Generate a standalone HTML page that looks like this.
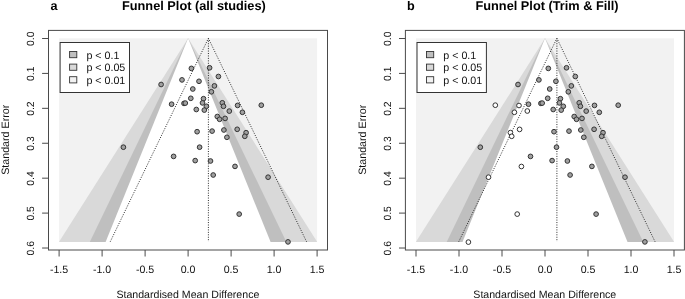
<!DOCTYPE html>
<html><head><meta charset="utf-8"><style>
html,body{margin:0;padding:0;background:#fff;}
svg{display:block;will-change:transform;text-rendering:geometricPrecision;}
</style></head><body>
<svg width="685" height="299" viewBox="0 0 685 299">
<rect width="685" height="299" fill="#fff"/>
<rect x="59.10" y="38.30" width="258.00" height="203.70" fill="#f2f2f2"/>
<polygon points="188.10,38.30 59.10,241.70 59.10,242.00 317.10,242.00 317.10,241.70" fill="#d9d9d9"/>
<polygon points="188.10,38.30 89.80,242.00 286.40,242.00" fill="#bfbfbf"/>
<polygon points="188.10,38.30 105.60,242.00 270.60,242.00" fill="#ffffff"/>
<polyline points="110.25,241.70 208.40,38.30 306.55,241.70" fill="none" stroke="#222" stroke-width="0.95" stroke-dasharray="1.0 1.45"/>
<line x1="208.40" y1="38.30" x2="208.40" y2="241.70" stroke="#222" stroke-width="0.95" stroke-dasharray="1.0 1.45"/>
<circle cx="161.10" cy="84.50" r="2.35" fill="#a0a0a0" stroke="#333" stroke-width="1"/>
<circle cx="191.40" cy="68.40" r="2.35" fill="#a0a0a0" stroke="#333" stroke-width="1"/>
<circle cx="209.60" cy="67.80" r="2.35" fill="#a0a0a0" stroke="#333" stroke-width="1"/>
<circle cx="182.00" cy="79.90" r="2.35" fill="#a0a0a0" stroke="#333" stroke-width="1"/>
<circle cx="199.00" cy="81.30" r="2.35" fill="#a0a0a0" stroke="#333" stroke-width="1"/>
<circle cx="218.40" cy="76.50" r="2.35" fill="#a0a0a0" stroke="#333" stroke-width="1"/>
<circle cx="192.80" cy="89.00" r="2.35" fill="#a0a0a0" stroke="#333" stroke-width="1"/>
<circle cx="214.40" cy="85.90" r="2.35" fill="#a0a0a0" stroke="#333" stroke-width="1"/>
<circle cx="211.40" cy="91.80" r="2.35" fill="#a0a0a0" stroke="#333" stroke-width="1"/>
<circle cx="190.80" cy="98.30" r="2.35" fill="#a0a0a0" stroke="#333" stroke-width="1"/>
<circle cx="203.50" cy="98.70" r="2.35" fill="#a0a0a0" stroke="#333" stroke-width="1"/>
<circle cx="171.60" cy="104.20" r="2.35" fill="#a0a0a0" stroke="#333" stroke-width="1"/>
<circle cx="184.00" cy="103.40" r="2.35" fill="#a0a0a0" stroke="#333" stroke-width="1"/>
<circle cx="185.30" cy="103.10" r="2.35" fill="#a0a0a0" stroke="#333" stroke-width="1"/>
<circle cx="202.50" cy="102.90" r="2.35" fill="#a0a0a0" stroke="#333" stroke-width="1"/>
<circle cx="206.40" cy="106.30" r="2.35" fill="#a0a0a0" stroke="#333" stroke-width="1"/>
<circle cx="222.30" cy="102.80" r="2.35" fill="#a0a0a0" stroke="#333" stroke-width="1"/>
<circle cx="223.50" cy="106.30" r="2.35" fill="#a0a0a0" stroke="#333" stroke-width="1"/>
<circle cx="237.60" cy="105.40" r="2.35" fill="#a0a0a0" stroke="#333" stroke-width="1"/>
<circle cx="261.30" cy="105.20" r="2.35" fill="#a0a0a0" stroke="#333" stroke-width="1"/>
<circle cx="196.30" cy="109.50" r="2.35" fill="#a0a0a0" stroke="#333" stroke-width="1"/>
<circle cx="204.30" cy="110.10" r="2.35" fill="#a0a0a0" stroke="#333" stroke-width="1"/>
<circle cx="229.30" cy="111.10" r="2.35" fill="#a0a0a0" stroke="#333" stroke-width="1"/>
<circle cx="242.40" cy="112.30" r="2.35" fill="#a0a0a0" stroke="#333" stroke-width="1"/>
<circle cx="217.30" cy="116.50" r="2.35" fill="#a0a0a0" stroke="#333" stroke-width="1"/>
<circle cx="219.60" cy="119.30" r="2.35" fill="#a0a0a0" stroke="#333" stroke-width="1"/>
<circle cx="225.10" cy="118.40" r="2.35" fill="#a0a0a0" stroke="#333" stroke-width="1"/>
<circle cx="197.10" cy="131.70" r="2.35" fill="#a0a0a0" stroke="#333" stroke-width="1"/>
<circle cx="212.10" cy="131.10" r="2.35" fill="#a0a0a0" stroke="#333" stroke-width="1"/>
<circle cx="223.90" cy="130.00" r="2.35" fill="#a0a0a0" stroke="#333" stroke-width="1"/>
<circle cx="237.20" cy="129.30" r="2.35" fill="#a0a0a0" stroke="#333" stroke-width="1"/>
<circle cx="246.10" cy="132.70" r="2.35" fill="#a0a0a0" stroke="#333" stroke-width="1"/>
<circle cx="244.80" cy="136.30" r="2.35" fill="#a0a0a0" stroke="#333" stroke-width="1"/>
<circle cx="226.90" cy="137.30" r="2.35" fill="#a0a0a0" stroke="#333" stroke-width="1"/>
<circle cx="199.60" cy="147.20" r="2.35" fill="#a0a0a0" stroke="#333" stroke-width="1"/>
<circle cx="173.60" cy="156.40" r="2.35" fill="#a0a0a0" stroke="#333" stroke-width="1"/>
<circle cx="123.40" cy="147.20" r="2.35" fill="#a0a0a0" stroke="#333" stroke-width="1"/>
<circle cx="195.20" cy="160.60" r="2.35" fill="#a0a0a0" stroke="#333" stroke-width="1"/>
<circle cx="210.50" cy="161.00" r="2.35" fill="#a0a0a0" stroke="#333" stroke-width="1"/>
<circle cx="213.20" cy="175.00" r="2.35" fill="#a0a0a0" stroke="#333" stroke-width="1"/>
<circle cx="235.00" cy="166.40" r="2.35" fill="#a0a0a0" stroke="#333" stroke-width="1"/>
<circle cx="268.10" cy="177.20" r="2.35" fill="#a0a0a0" stroke="#333" stroke-width="1"/>
<circle cx="239.20" cy="214.10" r="2.35" fill="#a0a0a0" stroke="#333" stroke-width="1"/>
<circle cx="288.00" cy="241.90" r="2.35" fill="#a0a0a0" stroke="#333" stroke-width="1"/>
<rect x="60.10" y="42.5" width="69.4" height="50.0" fill="#fff" stroke="#333" stroke-width="1"/>
<rect x="69.60" y="51.50" width="7.2" height="6.2" fill="#bfbfbf" stroke="#333" stroke-width="0.9"/>
<text x="86.40" y="58.50" font-size="10.7" style="font-family:'Liberation Sans',sans-serif" fill="#111">p &lt; 0.1</text>
<rect x="69.60" y="64.10" width="7.2" height="6.2" fill="#d9d9d9" stroke="#333" stroke-width="0.9"/>
<text x="86.40" y="71.10" font-size="10.7" style="font-family:'Liberation Sans',sans-serif" fill="#111">p &lt; 0.05</text>
<rect x="69.60" y="76.70" width="7.2" height="6.2" fill="#f2f2f2" stroke="#333" stroke-width="0.9"/>
<text x="86.40" y="83.70" font-size="10.7" style="font-family:'Liberation Sans',sans-serif" fill="#111">p &lt; 0.01</text>
<rect x="48.50" y="30.4" width="279" height="219.6" fill="none" stroke="#4a4a4a" stroke-width="1"/>
<line x1="59.10" y1="250" x2="59.10" y2="256.5" stroke="#4a4a4a" stroke-width="1"/>
<text x="59.10" y="272.6" font-size="10.6" text-anchor="middle" style="font-family:'Liberation Sans',sans-serif" fill="#111">-1.5</text>
<line x1="102.10" y1="250" x2="102.10" y2="256.5" stroke="#4a4a4a" stroke-width="1"/>
<text x="102.10" y="272.6" font-size="10.6" text-anchor="middle" style="font-family:'Liberation Sans',sans-serif" fill="#111">-1.0</text>
<line x1="145.10" y1="250" x2="145.10" y2="256.5" stroke="#4a4a4a" stroke-width="1"/>
<text x="145.10" y="272.6" font-size="10.6" text-anchor="middle" style="font-family:'Liberation Sans',sans-serif" fill="#111">-0.5</text>
<line x1="188.10" y1="250" x2="188.10" y2="256.5" stroke="#4a4a4a" stroke-width="1"/>
<text x="188.10" y="272.6" font-size="10.6" text-anchor="middle" style="font-family:'Liberation Sans',sans-serif" fill="#111">0.0</text>
<line x1="231.10" y1="250" x2="231.10" y2="256.5" stroke="#4a4a4a" stroke-width="1"/>
<text x="231.10" y="272.6" font-size="10.6" text-anchor="middle" style="font-family:'Liberation Sans',sans-serif" fill="#111">0.5</text>
<line x1="274.10" y1="250" x2="274.10" y2="256.5" stroke="#4a4a4a" stroke-width="1"/>
<text x="274.10" y="272.6" font-size="10.6" text-anchor="middle" style="font-family:'Liberation Sans',sans-serif" fill="#111">1.0</text>
<line x1="317.10" y1="250" x2="317.10" y2="256.5" stroke="#4a4a4a" stroke-width="1"/>
<text x="317.10" y="272.6" font-size="10.6" text-anchor="middle" style="font-family:'Liberation Sans',sans-serif" fill="#111">1.5</text>
<line x1="42.10" y1="38.50" x2="48.50" y2="38.50" stroke="#4a4a4a" stroke-width="1"/>
<text transform="translate(34.20,38.80) rotate(-90)" x="0" y="0" font-size="10.4" text-anchor="middle" style="font-family:'Liberation Sans',sans-serif" fill="#111">0.0</text>
<line x1="42.10" y1="73.42" x2="48.50" y2="73.42" stroke="#4a4a4a" stroke-width="1"/>
<text transform="translate(34.20,73.72) rotate(-90)" x="0" y="0" font-size="10.4" text-anchor="middle" style="font-family:'Liberation Sans',sans-serif" fill="#111">0.1</text>
<line x1="42.10" y1="108.34" x2="48.50" y2="108.34" stroke="#4a4a4a" stroke-width="1"/>
<text transform="translate(34.20,108.64) rotate(-90)" x="0" y="0" font-size="10.4" text-anchor="middle" style="font-family:'Liberation Sans',sans-serif" fill="#111">0.2</text>
<line x1="42.10" y1="143.26" x2="48.50" y2="143.26" stroke="#4a4a4a" stroke-width="1"/>
<text transform="translate(34.20,143.56) rotate(-90)" x="0" y="0" font-size="10.4" text-anchor="middle" style="font-family:'Liberation Sans',sans-serif" fill="#111">0.3</text>
<line x1="42.10" y1="178.18" x2="48.50" y2="178.18" stroke="#4a4a4a" stroke-width="1"/>
<text transform="translate(34.20,178.48) rotate(-90)" x="0" y="0" font-size="10.4" text-anchor="middle" style="font-family:'Liberation Sans',sans-serif" fill="#111">0.4</text>
<line x1="42.10" y1="213.10" x2="48.50" y2="213.10" stroke="#4a4a4a" stroke-width="1"/>
<text transform="translate(34.20,213.40) rotate(-90)" x="0" y="0" font-size="10.4" text-anchor="middle" style="font-family:'Liberation Sans',sans-serif" fill="#111">0.5</text>
<line x1="42.10" y1="248.02" x2="48.50" y2="248.02" stroke="#4a4a4a" stroke-width="1"/>
<text transform="translate(34.20,248.32) rotate(-90)" x="0" y="0" font-size="10.4" text-anchor="middle" style="font-family:'Liberation Sans',sans-serif" fill="#111">0.6</text>
<text x="187.90" y="297.7" font-size="10.6" text-anchor="middle" style="font-family:'Liberation Sans',sans-serif" fill="#111">Standardised Mean Difference</text>
<text transform="translate(9.00,139.8) rotate(-90)" font-size="10.7" text-anchor="middle" style="font-family:'Liberation Sans',sans-serif" fill="#111">Standard Error</text>
<text x="50.60" y="9.6" font-size="12.6" font-weight="bold" style="font-family:'Liberation Sans',sans-serif" fill="#000">a</text>
<text x="122.00" y="9.6" font-size="12.75" font-weight="bold" style="font-family:'Liberation Sans',sans-serif" fill="#000">Funnel Plot (all studies)</text>
<rect x="416.00" y="38.30" width="258.00" height="203.70" fill="#f2f2f2"/>
<polygon points="545.00,38.30 416.00,241.70 416.00,242.00 674.00,242.00 674.00,241.70" fill="#d9d9d9"/>
<polygon points="545.00,38.30 446.70,242.00 643.30,242.00" fill="#bfbfbf"/>
<polygon points="545.00,38.30 462.50,242.00 627.50,242.00" fill="#ffffff"/>
<polyline points="458.75,241.70 556.90,38.30 655.05,241.70" fill="none" stroke="#222" stroke-width="0.95" stroke-dasharray="1.0 1.45"/>
<line x1="556.90" y1="38.30" x2="556.90" y2="241.70" stroke="#222" stroke-width="0.95" stroke-dasharray="1.0 1.45"/>
<circle cx="518.00" cy="84.50" r="2.35" fill="#a0a0a0" stroke="#333" stroke-width="1"/>
<circle cx="548.30" cy="68.40" r="2.35" fill="#a0a0a0" stroke="#333" stroke-width="1"/>
<circle cx="566.50" cy="67.80" r="2.35" fill="#a0a0a0" stroke="#333" stroke-width="1"/>
<circle cx="538.90" cy="79.90" r="2.35" fill="#a0a0a0" stroke="#333" stroke-width="1"/>
<circle cx="555.90" cy="81.30" r="2.35" fill="#a0a0a0" stroke="#333" stroke-width="1"/>
<circle cx="575.30" cy="76.50" r="2.35" fill="#a0a0a0" stroke="#333" stroke-width="1"/>
<circle cx="549.70" cy="89.00" r="2.35" fill="#a0a0a0" stroke="#333" stroke-width="1"/>
<circle cx="571.30" cy="85.90" r="2.35" fill="#a0a0a0" stroke="#333" stroke-width="1"/>
<circle cx="568.30" cy="91.80" r="2.35" fill="#a0a0a0" stroke="#333" stroke-width="1"/>
<circle cx="547.70" cy="98.30" r="2.35" fill="#a0a0a0" stroke="#333" stroke-width="1"/>
<circle cx="560.40" cy="98.70" r="2.35" fill="#a0a0a0" stroke="#333" stroke-width="1"/>
<circle cx="528.50" cy="104.20" r="2.35" fill="#a0a0a0" stroke="#333" stroke-width="1"/>
<circle cx="540.90" cy="103.40" r="2.35" fill="#a0a0a0" stroke="#333" stroke-width="1"/>
<circle cx="542.20" cy="103.10" r="2.35" fill="#a0a0a0" stroke="#333" stroke-width="1"/>
<circle cx="559.40" cy="102.90" r="2.35" fill="#a0a0a0" stroke="#333" stroke-width="1"/>
<circle cx="563.30" cy="106.30" r="2.35" fill="#a0a0a0" stroke="#333" stroke-width="1"/>
<circle cx="579.20" cy="102.80" r="2.35" fill="#a0a0a0" stroke="#333" stroke-width="1"/>
<circle cx="580.40" cy="106.30" r="2.35" fill="#a0a0a0" stroke="#333" stroke-width="1"/>
<circle cx="594.50" cy="105.40" r="2.35" fill="#a0a0a0" stroke="#333" stroke-width="1"/>
<circle cx="618.20" cy="105.20" r="2.35" fill="#a0a0a0" stroke="#333" stroke-width="1"/>
<circle cx="553.20" cy="109.50" r="2.35" fill="#a0a0a0" stroke="#333" stroke-width="1"/>
<circle cx="561.20" cy="110.10" r="2.35" fill="#a0a0a0" stroke="#333" stroke-width="1"/>
<circle cx="586.20" cy="111.10" r="2.35" fill="#a0a0a0" stroke="#333" stroke-width="1"/>
<circle cx="599.30" cy="112.30" r="2.35" fill="#a0a0a0" stroke="#333" stroke-width="1"/>
<circle cx="574.20" cy="116.50" r="2.35" fill="#a0a0a0" stroke="#333" stroke-width="1"/>
<circle cx="576.50" cy="119.30" r="2.35" fill="#a0a0a0" stroke="#333" stroke-width="1"/>
<circle cx="582.00" cy="118.40" r="2.35" fill="#a0a0a0" stroke="#333" stroke-width="1"/>
<circle cx="554.00" cy="131.70" r="2.35" fill="#a0a0a0" stroke="#333" stroke-width="1"/>
<circle cx="569.00" cy="131.10" r="2.35" fill="#a0a0a0" stroke="#333" stroke-width="1"/>
<circle cx="580.80" cy="130.00" r="2.35" fill="#a0a0a0" stroke="#333" stroke-width="1"/>
<circle cx="594.10" cy="129.30" r="2.35" fill="#a0a0a0" stroke="#333" stroke-width="1"/>
<circle cx="603.00" cy="132.70" r="2.35" fill="#a0a0a0" stroke="#333" stroke-width="1"/>
<circle cx="601.70" cy="136.30" r="2.35" fill="#a0a0a0" stroke="#333" stroke-width="1"/>
<circle cx="583.80" cy="137.30" r="2.35" fill="#a0a0a0" stroke="#333" stroke-width="1"/>
<circle cx="556.50" cy="147.20" r="2.35" fill="#a0a0a0" stroke="#333" stroke-width="1"/>
<circle cx="530.50" cy="156.40" r="2.35" fill="#a0a0a0" stroke="#333" stroke-width="1"/>
<circle cx="480.30" cy="147.20" r="2.35" fill="#a0a0a0" stroke="#333" stroke-width="1"/>
<circle cx="552.10" cy="160.60" r="2.35" fill="#a0a0a0" stroke="#333" stroke-width="1"/>
<circle cx="567.40" cy="161.00" r="2.35" fill="#a0a0a0" stroke="#333" stroke-width="1"/>
<circle cx="570.10" cy="175.00" r="2.35" fill="#a0a0a0" stroke="#333" stroke-width="1"/>
<circle cx="591.90" cy="166.40" r="2.35" fill="#a0a0a0" stroke="#333" stroke-width="1"/>
<circle cx="625.00" cy="177.20" r="2.35" fill="#a0a0a0" stroke="#333" stroke-width="1"/>
<circle cx="596.10" cy="214.10" r="2.35" fill="#a0a0a0" stroke="#333" stroke-width="1"/>
<circle cx="644.90" cy="241.90" r="2.35" fill="#a0a0a0" stroke="#333" stroke-width="1"/>
<circle cx="495.30" cy="105.20" r="2.35" fill="#ffffff" stroke="#333" stroke-width="1"/>
<circle cx="519.00" cy="105.50" r="2.35" fill="#ffffff" stroke="#333" stroke-width="1"/>
<circle cx="514.40" cy="112.30" r="2.35" fill="#ffffff" stroke="#333" stroke-width="1"/>
<circle cx="527.30" cy="111.00" r="2.35" fill="#ffffff" stroke="#333" stroke-width="1"/>
<circle cx="519.60" cy="129.40" r="2.35" fill="#ffffff" stroke="#333" stroke-width="1"/>
<circle cx="510.40" cy="132.60" r="2.35" fill="#ffffff" stroke="#333" stroke-width="1"/>
<circle cx="511.70" cy="136.30" r="2.35" fill="#ffffff" stroke="#333" stroke-width="1"/>
<circle cx="521.40" cy="166.50" r="2.35" fill="#ffffff" stroke="#333" stroke-width="1"/>
<circle cx="488.50" cy="177.20" r="2.35" fill="#ffffff" stroke="#333" stroke-width="1"/>
<circle cx="517.20" cy="214.10" r="2.35" fill="#ffffff" stroke="#333" stroke-width="1"/>
<circle cx="468.40" cy="242.10" r="2.35" fill="#ffffff" stroke="#333" stroke-width="1"/>
<rect x="417.00" y="42.5" width="69.4" height="50.0" fill="#fff" stroke="#333" stroke-width="1"/>
<rect x="426.50" y="51.50" width="7.2" height="6.2" fill="#bfbfbf" stroke="#333" stroke-width="0.9"/>
<text x="443.30" y="58.50" font-size="10.7" style="font-family:'Liberation Sans',sans-serif" fill="#111">p &lt; 0.1</text>
<rect x="426.50" y="64.10" width="7.2" height="6.2" fill="#d9d9d9" stroke="#333" stroke-width="0.9"/>
<text x="443.30" y="71.10" font-size="10.7" style="font-family:'Liberation Sans',sans-serif" fill="#111">p &lt; 0.05</text>
<rect x="426.50" y="76.70" width="7.2" height="6.2" fill="#f2f2f2" stroke="#333" stroke-width="0.9"/>
<text x="443.30" y="83.70" font-size="10.7" style="font-family:'Liberation Sans',sans-serif" fill="#111">p &lt; 0.01</text>
<rect x="405.40" y="30.4" width="279" height="219.6" fill="none" stroke="#4a4a4a" stroke-width="1"/>
<line x1="416.00" y1="250" x2="416.00" y2="256.5" stroke="#4a4a4a" stroke-width="1"/>
<text x="416.00" y="272.6" font-size="10.6" text-anchor="middle" style="font-family:'Liberation Sans',sans-serif" fill="#111">-1.5</text>
<line x1="459.00" y1="250" x2="459.00" y2="256.5" stroke="#4a4a4a" stroke-width="1"/>
<text x="459.00" y="272.6" font-size="10.6" text-anchor="middle" style="font-family:'Liberation Sans',sans-serif" fill="#111">-1.0</text>
<line x1="502.00" y1="250" x2="502.00" y2="256.5" stroke="#4a4a4a" stroke-width="1"/>
<text x="502.00" y="272.6" font-size="10.6" text-anchor="middle" style="font-family:'Liberation Sans',sans-serif" fill="#111">-0.5</text>
<line x1="545.00" y1="250" x2="545.00" y2="256.5" stroke="#4a4a4a" stroke-width="1"/>
<text x="545.00" y="272.6" font-size="10.6" text-anchor="middle" style="font-family:'Liberation Sans',sans-serif" fill="#111">0.0</text>
<line x1="588.00" y1="250" x2="588.00" y2="256.5" stroke="#4a4a4a" stroke-width="1"/>
<text x="588.00" y="272.6" font-size="10.6" text-anchor="middle" style="font-family:'Liberation Sans',sans-serif" fill="#111">0.5</text>
<line x1="631.00" y1="250" x2="631.00" y2="256.5" stroke="#4a4a4a" stroke-width="1"/>
<text x="631.00" y="272.6" font-size="10.6" text-anchor="middle" style="font-family:'Liberation Sans',sans-serif" fill="#111">1.0</text>
<line x1="674.00" y1="250" x2="674.00" y2="256.5" stroke="#4a4a4a" stroke-width="1"/>
<text x="674.00" y="272.6" font-size="10.6" text-anchor="middle" style="font-family:'Liberation Sans',sans-serif" fill="#111">1.5</text>
<line x1="399.00" y1="38.50" x2="405.40" y2="38.50" stroke="#4a4a4a" stroke-width="1"/>
<text transform="translate(391.10,38.80) rotate(-90)" x="0" y="0" font-size="10.4" text-anchor="middle" style="font-family:'Liberation Sans',sans-serif" fill="#111">0.0</text>
<line x1="399.00" y1="73.42" x2="405.40" y2="73.42" stroke="#4a4a4a" stroke-width="1"/>
<text transform="translate(391.10,73.72) rotate(-90)" x="0" y="0" font-size="10.4" text-anchor="middle" style="font-family:'Liberation Sans',sans-serif" fill="#111">0.1</text>
<line x1="399.00" y1="108.34" x2="405.40" y2="108.34" stroke="#4a4a4a" stroke-width="1"/>
<text transform="translate(391.10,108.64) rotate(-90)" x="0" y="0" font-size="10.4" text-anchor="middle" style="font-family:'Liberation Sans',sans-serif" fill="#111">0.2</text>
<line x1="399.00" y1="143.26" x2="405.40" y2="143.26" stroke="#4a4a4a" stroke-width="1"/>
<text transform="translate(391.10,143.56) rotate(-90)" x="0" y="0" font-size="10.4" text-anchor="middle" style="font-family:'Liberation Sans',sans-serif" fill="#111">0.3</text>
<line x1="399.00" y1="178.18" x2="405.40" y2="178.18" stroke="#4a4a4a" stroke-width="1"/>
<text transform="translate(391.10,178.48) rotate(-90)" x="0" y="0" font-size="10.4" text-anchor="middle" style="font-family:'Liberation Sans',sans-serif" fill="#111">0.4</text>
<line x1="399.00" y1="213.10" x2="405.40" y2="213.10" stroke="#4a4a4a" stroke-width="1"/>
<text transform="translate(391.10,213.40) rotate(-90)" x="0" y="0" font-size="10.4" text-anchor="middle" style="font-family:'Liberation Sans',sans-serif" fill="#111">0.5</text>
<line x1="399.00" y1="248.02" x2="405.40" y2="248.02" stroke="#4a4a4a" stroke-width="1"/>
<text transform="translate(391.10,248.32) rotate(-90)" x="0" y="0" font-size="10.4" text-anchor="middle" style="font-family:'Liberation Sans',sans-serif" fill="#111">0.6</text>
<text x="544.80" y="297.7" font-size="10.6" text-anchor="middle" style="font-family:'Liberation Sans',sans-serif" fill="#111">Standardised Mean Difference</text>
<text transform="translate(365.90,139.8) rotate(-90)" font-size="10.7" text-anchor="middle" style="font-family:'Liberation Sans',sans-serif" fill="#111">Standard Error</text>
<text x="407.00" y="9.6" font-size="12.6" font-weight="bold" style="font-family:'Liberation Sans',sans-serif" fill="#000">b</text>
<text x="475.50" y="9.6" font-size="12.75" font-weight="bold" style="font-family:'Liberation Sans',sans-serif" fill="#000">Funnel Plot (Trim &amp; Fill)</text>
</svg>
</body></html>
